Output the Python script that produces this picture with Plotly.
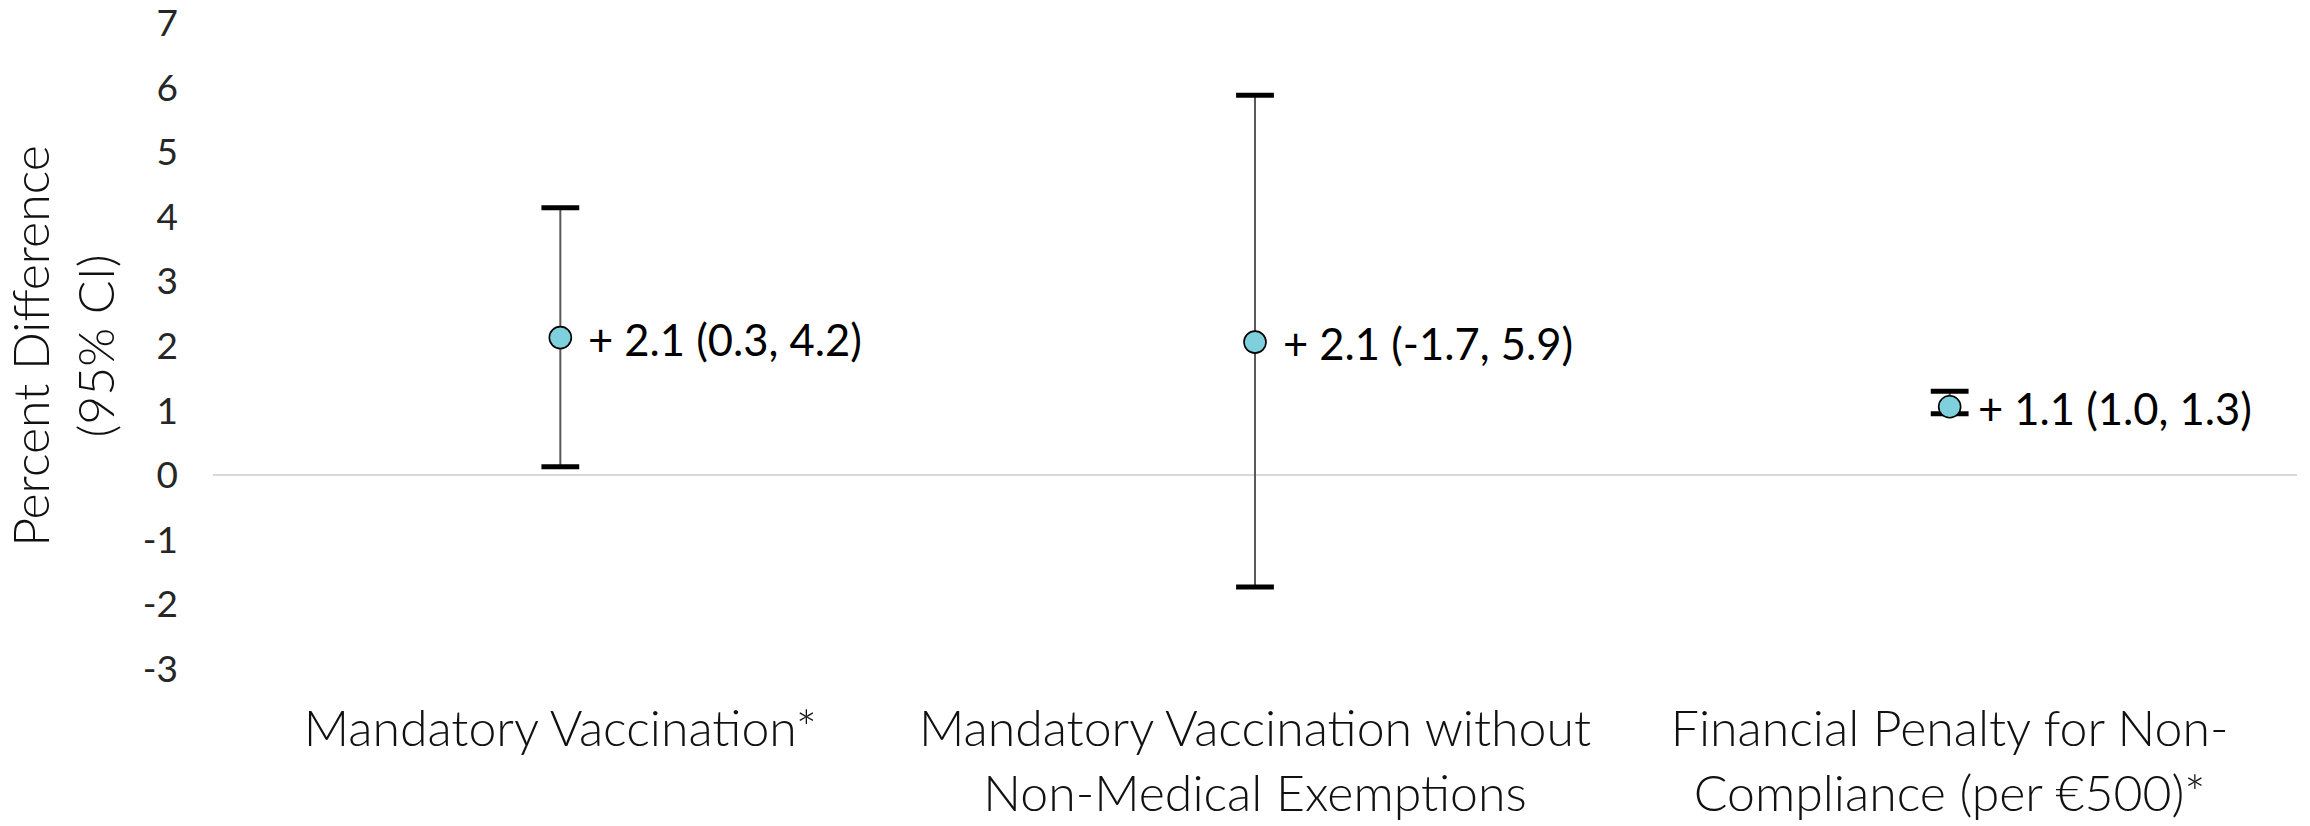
import plotly.graph_objects as go

categories = [
    "Mandatory Vaccination*",
    "Mandatory Vaccination without<br>Non-Medical Exemptions",
    "Financial Penalty for Non-<br>Compliance (per €500)*",
]
estimate = [2.13, 2.06, 1.06]
lower = [0.13, -1.73, 0.95]
upper = [4.14, 5.88, 1.30]
value_labels = ["+ 2.1 (0.3, 4.2)", "+ 2.1 (-1.7, 5.9)", "+ 1.1 (1.0, 1.3)"]
y_ticks = [-3, -2, -1, 0, 1, 2, 3, 4, 5, 6, 7]
y_ticktext = [str(v) for v in y_ticks]

FONT = "Lato"
TXT = "#111111"

err_plus = [u - e for u, e in zip(upper, estimate)]
err_minus = [e - l for e, l in zip(estimate, lower)]

fig = go.Figure()

# stems
fig.add_trace(go.Scatter(
    x=categories, y=estimate, mode="markers",
    marker=dict(size=1, color="rgba(0,0,0,0)"),
    error_y=dict(type="data", symmetric=False, array=err_plus, arrayminus=err_minus,
                 color="#595959", thickness=2, width=0),
    showlegend=False, hoverinfo="skip",
))
# caps
fig.add_trace(go.Scatter(
    x=categories + categories, y=upper + lower, mode="markers",
    marker=dict(symbol="line-ew", size=27, line=dict(width=5, color="#000000")),
    showlegend=False, hoverinfo="skip",
))
# point estimates
fig.add_trace(go.Scatter(
    x=categories, y=estimate, mode="markers",
    marker=dict(symbol="circle", size=22, color="#7fd0dd",
                line=dict(width=1.6, color="#000000")),
    showlegend=False,
))

for c, e, t in zip(categories, estimate, value_labels):
    fig.add_annotation(x=c, y=e, text=t, showarrow=False, xanchor="left",
                       yanchor="middle", xshift=26, yshift=-1,
                       font=dict(family=FONT, size=43.5, color="#000000"))

fig.update_layout(
    width=2310, height=826,
    margin=dict(l=213, r=13, t=23, b=157),
    paper_bgcolor="white", plot_bgcolor="white",
    font=dict(family=FONT, color=TXT),
)
fig.update_xaxes(
    type="category", range=[-0.5, 2.5], showgrid=False, showline=False,
    zeroline=False, ticks="", ticklabelstandoff=26, automargin=False,
    tickfont=dict(family=FONT, size=50, color=TXT, weight=300),
)
fig.update_yaxes(
    range=[-3, 7], tickvals=y_ticks, ticktext=y_ticktext,
    ticklabeloverflow="allow", automargin=False,
    showgrid=False, showline=False,
    zeroline=True, zerolinecolor="#d9d9d9", zerolinewidth=2,
    ticks="", ticklabelstandoff=34,
    tickfont=dict(family=FONT, size=37, color="#262626", weight=400),
    title=dict(text="Percent Difference<br>(95% CI)", standoff=18,
               font=dict(family=FONT, size=50, color=TXT, weight=300)),
)

fig.write_html(
    "out.html",
    config={"displayModeBar": False},
    post_script="document.body.style.margin='0';document.body.style.overflow='hidden';",
)
